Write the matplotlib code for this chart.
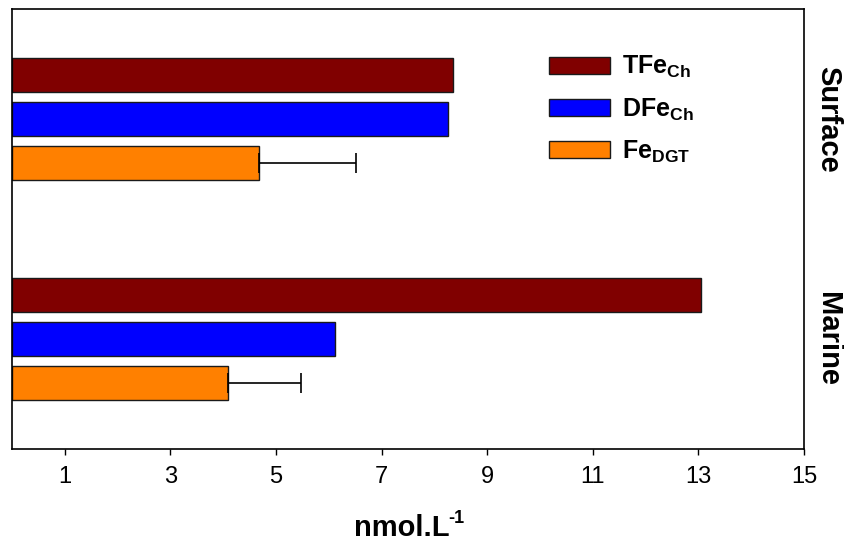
import matplotlib
matplotlib.use("Agg")
import matplotlib.pyplot as plt
import matplotlib.transforms as mtransforms
import numpy as np

plt.rcParams['font.family'] = ['Liberation Sans', 'DejaVu Sans']
plt.rcParams['mathtext.fontset'] = 'custom'
plt.rcParams['mathtext.rm'] = 'Liberation Sans'
plt.rcParams['mathtext.bf'] = 'Liberation Sans:bold'

# ---- data ----
sites = ['Surface', 'Marine']
series_labels = [r'$\mathbf{TFe_{Ch}}$', r'$\mathbf{DFe_{Ch}}$', r'$\mathbf{Fe_{DGT}}$']
series_colors = ['#800000', '#0000FF', '#FF8000']
tfe_ch = [8.35, 13.05]
dfe_ch = [8.25, 6.11]
fe_dgt = [4.67, 4.10]
fe_dgt_err = [1.84, 1.38]
xticks = [1, 3, 5, 7, 9, 11, 13, 15]

values = [tfe_ch, dfe_ch, fe_dgt]
errors = [None, None, fe_dgt_err]

fig = plt.figure(figsize=(8.45, 5.44), dpi=100)
ax = fig.add_axes([12/845, 95/544, (804-12)/845, (449-9)/544])

group_step = 5
bar_h = 0.77
for si, (vals, lab, col, err) in enumerate(zip(values, series_labels, series_colors, errors)):
    pos = np.arange(len(sites)) * group_step + si
    if err is not None:
        ax.barh(pos, vals, height=bar_h, color=col, edgecolor='#1a1a1a', linewidth=1.0,
                label=lab, xerr=[np.zeros(len(err)), err],
                error_kw=dict(ecolor='black', elinewidth=1.2, capsize=7, capthick=1.2))
    else:
        ax.barh(pos, vals, height=bar_h, color=col, edgecolor='#1a1a1a', linewidth=1.0, label=lab)

ax.set_xlim(0, 15)
ax.set_ylim(len(sites) * group_step - 1.5, -1.5)
ax.set_xticks(xticks)
ax.set_xticklabels([str(t) for t in xticks], fontsize=17)
ax.tick_params(axis='x', direction='out', length=4, width=1.0, pad=8)
ax.set_yticks([])
for sp in ax.spines.values():
    sp.set_linewidth(1.2)
    sp.set_color('black')

xl = ax.set_xlabel('nmol.L', fontsize=21, fontweight='bold', labelpad=19, x=0.492)

trans = mtransforms.blended_transform_factory(ax.transAxes, ax.transData)
for i, s in enumerate(sites):
    ax.text(1.030, i * group_step + 1, s, rotation=-90, transform=trans,
            ha='center', va='center', fontsize=21, fontweight='bold')

leg = ax.legend(loc='upper left', bbox_to_anchor=(0.665, 0.92), frameon=False,
                fontsize=18, handlelength=2.45, handleheight=0.68,
                labelspacing=0.64, handletextpad=0.5, borderaxespad=0)

# superscript "-1" placed right after the x label
fig.canvas.draw()
bb = xl.get_window_extent(renderer=fig.canvas.get_renderer())
fig.text((bb.x1 - 1) / fig.bbox.width, (bb.y1 + 4) / fig.bbox.height, '-1',
         fontsize=13, fontweight='bold', ha='left', va='top')

fig.savefig('out.png', dpi=100)
